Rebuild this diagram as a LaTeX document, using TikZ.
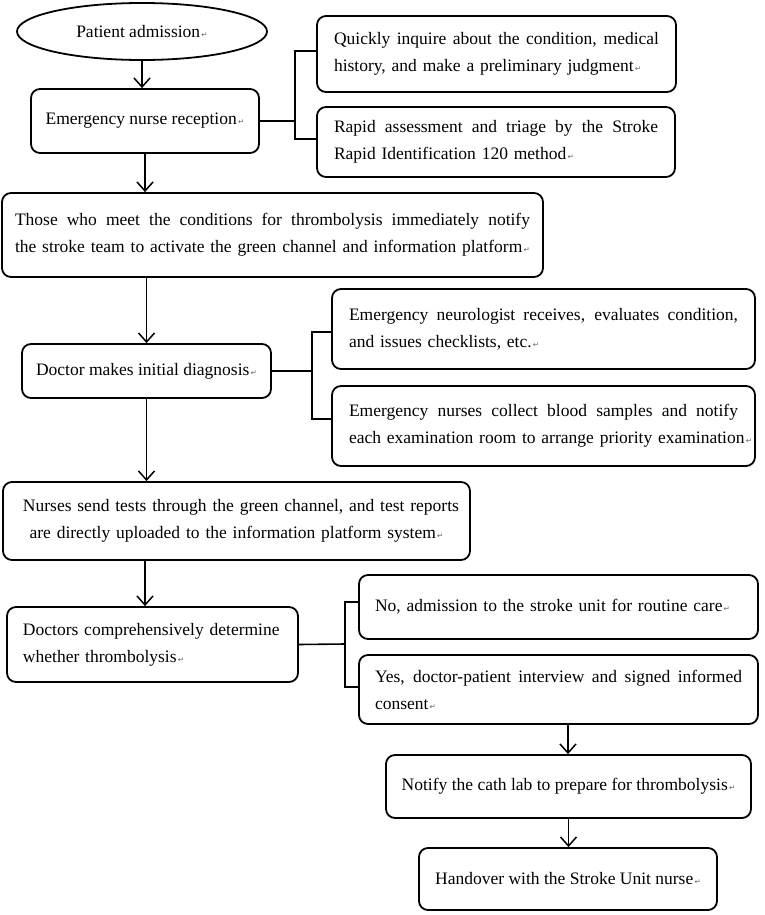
\documentclass[tikz,border=0pt]{standalone}
\usepackage{fontspec}
\setmainfont{Liberation Serif}
\newfontfamily\retfont{DejaVu Sans}
\usetikzlibrary{arrows.meta,shapes.geometric,calc}
\newcommand\rt{{\retfont\fontsize{7.5}{7.5}\selectfont\color{black!60}\,↵}}
\newcommand\jl[2]{\hbox to #1{\spaceskip=0.25em plus 1fil\relax #2}}
\begin{document}
\begin{tikzpicture}[x=1pt,y=-1pt,
  every node/.style={font=\fontsize{17.5}{27}\selectfont},
  box/.style={draw, line width=1.8pt, rounded corners=9pt, inner ysep=0pt, align=left},
  arr/.style={line width=1.5pt, -{Straight Barb[length=9pt,width=16pt,line width=1.5pt]}},
  ln/.style={line width=1.6pt}]
\useasboundingbox (0,0) rectangle (765,915);

\node[draw, ellipse, line width=1.8pt, minimum width=250pt, minimum height=57pt, inner sep=0pt] (adm) at (142,31.5) {Patient admission\rt};
\node[box, align=center, minimum width=228pt, minimum height=64pt] (nurse) at (145,121) {Emergency nurse reception\rt};
\node[box, text width=325pt, inner xsep=17pt, minimum height=76pt] (q1) at (496.5,54)
  {\jl{325pt}{Quickly inquire about the condition, medical}\\\mbox{history, and make a preliminary judgment\rt}};
\node[box, text width=324pt, inner xsep=17pt, minimum height=70pt] (q2) at (496,142)
  {\jl{324pt}{Rapid assessment and triage by the Stroke}\\\mbox{Rapid Identification 120 method\rt}};
\node[box, text width=515pt, inner xsep=13pt, minimum height=84pt] (those) at (272.5,235)
  {\jl{515pt}{Those who meet the conditions for thrombolysis immediately notify}\\\mbox{the stroke team to activate the green channel and information platform\rt}};
\node[box, align=center, minimum width=249pt, minimum height=54pt] (doc) at (146.5,371) {Doctor makes initial diagnosis\rt};
\node[box, text width=389pt, inner xsep=17pt, minimum height=80pt] (neu) at (543.5,329)
  {\jl{389pt}{Emergency neurologist receives, evaluates condition,}\\\mbox{and issues checklists, etc.\rt}};
\node[box, text width=389pt, inner xsep=17pt, minimum height=80pt] (bld) at (543.5,426)
  {\jl{389pt}{Emergency nurses collect blood samples and notify}\\\mbox{each examination room to arrange priority examination\rt}};
\node[box, align=center, text width=427pt, inner xsep=20pt, minimum height=78pt] (tests) at (236.5,521)
  {\mbox{Nurses send tests through the green channel, and test reports}\\\mbox{are directly uploaded to the information platform system\rt}};
\node[box, text width=259pt, inner xsep=16pt, minimum height=75pt] (det) at (152.5,644.5)
  {\mbox{Doctors comprehensively determine}\\\mbox{whether thrombolysis\rt}};
\node[box, text width=367pt, inner xsep=16pt, minimum height=64pt] (no) at (558.5,607)
  {\mbox{No, admission to the stroke unit for routine care\rt}};
\node[box, text width=367pt, inner xsep=16pt, minimum height=69pt] (yes) at (558.5,689.5)
  {\jl{367pt}{Yes, doctor-patient interview and signed informed}\\\mbox{consent\rt}};
\node[box, align=center, minimum width=365pt, minimum height=63pt] (cath) at (568.5,786.5) {Notify the cath lab to prepare for thrombolysis\rt};
\node[box, align=center, minimum width=298pt, minimum height=62pt] (hand) at (568,879) {Handover with the Stroke Unit nurse\rt};

\coordinate (b1) at (295,121);
\coordinate (b2) at (312,371);
\coordinate (b3) at (345,644);
\coordinate (x4) at (145,0);
\coordinate (x6) at (568,0);

\draw[arr] (adm.south) -- (adm.south |- nurse.north);
\draw[ln] (nurse.east) -- (b1);
\draw[ln] ($(q1.west)+(0,-3)$) -| (b1) |- ($(q2.west)+(0,-3)$);
\draw[arr] (nurse.south) -- (nurse.south |- those.north);
\draw[arr] (those.south -| doc.north) -- (doc.north);
\draw[ln] (doc.east) -- (b2);
\draw[ln] ($(neu.west)+(0,3)$) -| (b2) |- ($(bld.west)+(0,-7)$);
\draw[arr] (doc.south) -- (doc.south |- tests.north);
\draw[arr] (tests.south -| x4) -- (det.north -| x4);
\draw[ln] (det.east) -- (b3);
\draw[ln] ($(no.west)+(0,-5)$) -| (b3) |- ($(yes.west)+(0,-2.5)$);
\draw[arr] (yes.south -| x6) -- (cath.north -| x6);
\draw[arr] (cath.south) -- (cath.south |- hand.north);
\end{tikzpicture}
\end{document}
